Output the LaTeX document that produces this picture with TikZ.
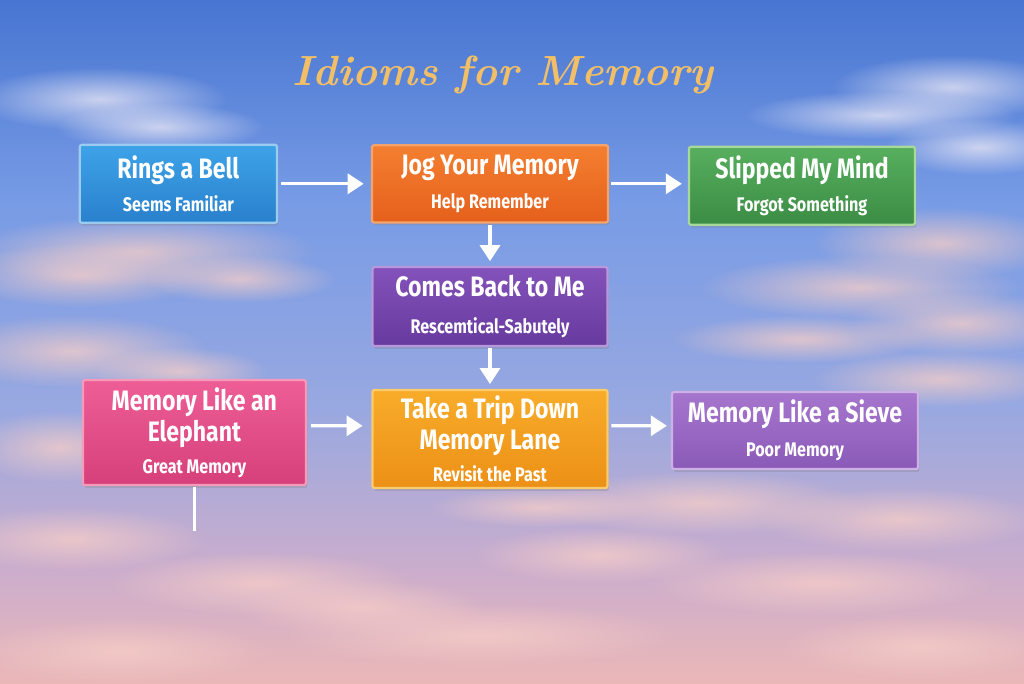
\documentclass[tikz,border=0pt]{standalone}
\usepackage{fontspec}
\newfontfamily\idiomfont[FakeStretch=0.82]{Fira Sans}
\usetikzlibrary{arrows.meta, shadows, fadings}

\definecolor{titlegold}{HTML}{F2BF66}
\definecolor{cloudpink}{HTML}{F8CFC8}
\definecolor{cloudwhite}{HTML}{EEEAF6}
\definecolor{bellblue}{HTML}{3DA3E8}
\definecolor{bellbluedk}{HTML}{2A80CC}
\definecolor{bellrim}{HTML}{9CCBF0}
\definecolor{jogorange}{HTML}{F47F30}
\definecolor{jogorangedk}{HTML}{E5601C}
\definecolor{jogrim}{HTML}{F6A36A}
\definecolor{mindgreen}{HTML}{57AF5E}
\definecolor{mindgreendk}{HTML}{3B8C44}
\definecolor{mindrim}{HTML}{A8D89A}
\definecolor{backpurple}{HTML}{8352BA}
\definecolor{backpurpledk}{HTML}{673A9E}
\definecolor{backrim}{HTML}{B898DC}
\definecolor{elephpink}{HTML}{EE5E96}
\definecolor{elephpinkdk}{HTML}{D6407A}
\definecolor{elephrim}{HTML}{F59AB8}
\definecolor{triporange}{HTML}{F8AC2A}
\definecolor{triporangedk}{HTML}{EC9016}
\definecolor{triprim}{HTML}{FACB6A}
\definecolor{sievepurple}{HTML}{A676CE}
\definecolor{sievepurpledk}{HTML}{8A5AB8}
\definecolor{sieverim}{HTML}{CDB0E6}

\pgfdeclareverticalshading{sky}{100bp}{rgb(0bp)=(0.92,0.72,0.72); rgb(25bp)=(0.92,0.72,0.72); rgb(33bp)=(0.80,0.68,0.80); rgb(45bp)=(0.60,0.66,0.88); rgb(60bp)=(0.47,0.61,0.90); rgb(75bp)=(0.28,0.46,0.82); rgb(100bp)=(0.28,0.46,0.82)}

\tikzfading[name=softcloud, inner color=transparent!0, outer color=transparent!100]

\newcommand\idiomgloss[1]{{\fontsize{14}{16}\selectfont #1}}

\begin{document}
\begin{tikzpicture}[>={Triangle[length=4mm, width=5mm]}]

\tikzset{
  idiombox/.style n args={3}{top color=#1, bottom color=#2, draw=#3, line width=1.6pt,
    rounded corners=1.5pt, drop shadow={shadow xshift=1pt, shadow yshift=-2pt, opacity=0.3},
    text=white, align=center, inner sep=0pt,
    font=\idiomfont\bfseries\fontsize{20}{22}\selectfont},
  flowarrow/.style={draw=white, line width=2.4pt, ->},
  cloud/.style={fill=#1, path fading=softcloud, opacity=0.75}
}

% Sky
\useasboundingbox (0,0) rectangle (25.6,17.075);
\shade[shading=sky] (0,0) rectangle (25.6,17.075);

% Clouds, white streaks up top
\foreach \cx/\cy/\rx/\ry in {2.5/14.6/3.2/0.8, 4.0/13.9/2.6/0.6, 23.8/14.9/3.0/0.8,
    22.0/14.2/3.4/0.6, 24.5/13.4/2.4/0.7, 21.0/13.0/2.0/0.5}
  \fill[cloud=cloudwhite] (\cx,\cy) ellipse [x radius=\rx, y radius=\ry];

% Clouds, pink ones lower down
\foreach \cx/\cy/\rx/\ry in {3.5/10.8/4.4/0.9, 2.0/10.2/3.2/0.8, 6.0/10.1/2.4/0.6,
    1.8/8.3/3.4/0.9, 4.5/7.8/2.2/0.6, 23.5/11.0/3.2/0.9, 21.5/9.9/4.0/0.8,
    24.0/9.0/2.8/0.8, 20.0/8.6/3.2/0.6, 23.5/7.6/3.2/0.7, 1.5/5.9/2.4/0.9,
    1.8/3.6/3.4/0.8, 6.5/2.5/3.8/0.8, 9.0/1.9/3.2/0.7, 17.5/4.5/4.0/0.8,
    22.5/4.1/3.6/0.8, 15.0/3.2/3.2/0.7, 20.5/2.5/4.4/0.8, 12.0/1.2/5.0/0.8,
    3.0/0.8/3.8/0.8, 23.0/0.9/3.6/0.8, 13.5/4.4/2.8/0.5}
  \fill[cloud=cloudpink] (\cx,\cy) ellipse [x radius=\rx, y radius=\ry];

% Title
\node[font=\bfseries\itshape\fontsize{30}{32}\selectfont, text=titlegold] (title) at (12.575,15.2) {Idioms for Memory};

% Boxes
\node[idiombox={bellblue}{bellbluedk}{bellrim}, minimum width=4.93cm, minimum height=1.95cm]
  (rings) at (4.46,12.48) {Rings a Bell\\[2pt]\idiomgloss{Seems Familiar}};
\node[idiombox={jogorange}{jogorangedk}{jogrim}, minimum width=5.9cm, minimum height=1.93cm]
  (jog) at (12.25,12.48) {Jog Your Memory\\[2pt]\idiomgloss{Help Remember}};
\node[idiombox={mindgreen}{mindgreendk}{mindrim}, minimum width=5.65cm, minimum height=1.95cm]
  (slipped) at (20.05,12.43) {Slipped My Mind\\[2pt]\idiomgloss{Forgot Something}};
\node[idiombox={backpurple}{backpurpledk}{backrim}, minimum width=5.875cm, minimum height=1.975cm]
  (comes) at (12.25,9.41) {Comes Back to Me\\[4pt]\idiomgloss{Rescemtical-Sabutely}};
\node[idiombox={elephpink}{elephpinkdk}{elephrim}, minimum width=5.575cm, minimum height=2.625cm]
  (elephant) at (4.86,6.26) {Memory Like an\\Elephant\\[1pt]\idiomgloss{Great Memory}};
\node[idiombox={triporange}{triporangedk}{triprim}, minimum width=5.875cm, minimum height=2.45cm]
  (trip) at (12.25,6.10) {Take a Trip Down\\Memory Lane\\[1pt]\idiomgloss{Revisit the Past}};
\node[idiombox={sievepurple}{sievepurpledk}{sieverim}, minimum width=6.15cm, minimum height=1.925cm]
  (sieve) at (19.875,6.31) {Memory Like a Sieve\\[2pt]\idiomgloss{Poor Memory}};

% Connectors
\draw[flowarrow, shorten <=0.07cm, shorten >=0.18cm] (rings) -- (jog);
\draw[flowarrow, shorten <=0.05cm, shorten >=0.15cm] (jog.east) -- (jog.east -| slipped.west);
\draw[flowarrow, shorten <=0.03cm, shorten >=0.12cm] (jog) -- (comes);
\draw[flowarrow, shorten <=0.03cm, shorten >=0.12cm] (comes) -- (trip);
\draw[flowarrow, shorten <=0.1cm, shorten >=0.22cm] ([yshift=0.17cm]elephant.east) -- ([yshift=0.33cm]trip.west);
\draw[flowarrow, shorten <=0.07cm, shorten >=0.1cm] ([yshift=0.33cm]trip.east) -- ([yshift=0.12cm]sieve.west);

\coordinate (tail) at (4.86,3.8);
\draw[white, line width=1.6pt, shorten <=0.03cm] (elephant.south) -- (tail);

\end{tikzpicture}
\end{document}
